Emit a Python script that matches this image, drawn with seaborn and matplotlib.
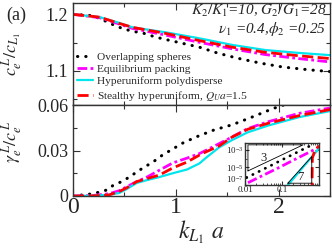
import numpy as np
import pandas as pd
import matplotlib
matplotlib.use("Agg")
import matplotlib.pyplot as plt
import seaborn as sns
from matplotlib.ticker import MultipleLocator, FixedLocator, NullFormatter

# ---- data ----
# top panel: c_e^L / c_L1
k_top_dots = [0, 0.165, 0.26, 0.36, 0.48, 0.58, 0.68, 0.80, 0.94, 1.23, 1.40, 1.59, 1.82, 2.04, 2.30, 2.5]
c_dots = [1.2, 1.198, 1.193, 1.184, 1.175, 1.170, 1.167, 1.160, 1.154, 1.142, 1.132, 1.123, 1.114, 1.107, 1.102, 1.099]

k_top = [0, 0.26, 0.43, 0.58, 0.91, 1.22, 1.55, 1.87, 2.19, 2.5]
c_equil = [1.2, 1.194, 1.184, 1.175, 1.163, 1.151, 1.139, 1.129, 1.122, 1.116]
c_hyper = [1.2, 1.195, 1.186, 1.177, 1.168, 1.158, 1.146, 1.137, 1.132, 1.128]
c_stealth = [1.2, 1.195, 1.185, 1.177, 1.166, 1.154, 1.142, 1.133, 1.127, 1.122]

# bottom panel: gamma_e^L / c_e^L
k_bot_dots = [0, 0.17, 0.26, 0.33, 0.39, 0.49, 0.58, 0.68, 0.78, 0.87, 0.97, 1.07, 1.2, 1.37, 1.55, 1.74, 1.94, 2.07]
g_dots = [0, 0.0013, 0.0026, 0.004, 0.007, 0.010, 0.014, 0.0185, 0.0225, 0.027, 0.031, 0.035, 0.039, 0.0435, 0.047, 0.052, 0.0575, 0.0605]

k_bot = [0, 0.2, 0.35, 0.45, 0.52, 0.62, 0.72, 0.84, 0.97, 1.11, 1.23, 1.29, 1.42, 1.55, 1.7, 1.9, 2.2, 2.5]
g_equil = [0, 0.0004, 0.0015, 0.0035, 0.006, 0.0095, 0.0125, 0.017, 0.0218, 0.025, 0.028, 0.030, 0.0345, 0.039, 0.0445, 0.049, 0.0545, 0.058]
g_hyper = [0, 0.0002, 0.0008, 0.002, 0.0045, 0.0086, 0.0105, 0.0125, 0.015, 0.0175, 0.0215, 0.025, 0.032, 0.037, 0.042, 0.0465, 0.052, 0.056]
g_stealth = [0, 0.0001, 0.0007, 0.003, 0.0053, 0.0095, 0.0115, 0.0138, 0.0185, 0.0224, 0.027, 0.029, 0.033, 0.039, 0.044, 0.048, 0.053, 0.057]

# inset (log-log)
ki_dots = [0.011, 0.015, 0.02, 0.028, 0.04, 0.055, 0.08, 0.11, 0.15, 0.21, 0.3, 0.42, 0.6]
gi_dots = [6.8e-7, 1.3e-6, 2.4e-6, 4.8e-6, 1.04e-5, 2.0e-5, 4.5e-5, 8.9e-5, 1.7e-4, 3.5e-4, 7.4e-4, 1.5e-3, 3.1e-3]
ki_equil = [0.012, 0.03, 0.08, 0.2, 0.5, 1.0]
gi_equil = [1.8e-7, 1.2e-6, 9.0e-6, 6.5e-5, 4.5e-4, 2.0e-3]
ki_hyper = [0.13, 0.2, 0.4, 0.7, 1.0]
gi_hyper = [6e-8, 5e-7, 1.6e-5, 2.5e-4, 1.5e-3]
ki_stealth = [0.648, 0.65, 0.66, 0.75, 0.9, 1.0]
gi_stealth = [1e-8, 1e-6, 1.2e-4, 6e-4, 1.8e-3, 3e-3]
tri3_x = [0.012, 0.37, 0.012, 0.012]
tri3_y = [4e-6, 3.7e-3, 3.7e-3, 4e-6]
tri7_x = [0.143, 0.636, 0.636, 0.143]
tri7_y = [1.6e-7, 1.7e-4, 1.6e-7, 1.6e-7]

# ---- style ----
sns.set_style("ticks")
plt.rcParams["font.family"] = ["Liberation Serif", "DejaVu Serif"]
plt.rcParams["mathtext.fontset"] = "stix"
plt.rcParams["mathtext.default"] = "it"
plt.rcParams["axes.edgecolor"] = "#333333"
plt.rcParams["axes.linewidth"] = 1.0

CYAN = "#00e5ee"
MAG = "#ff00ff"
RED = "#ff0000"
dot_style = dict(color="black", linestyle=(0, (0.1, 2.6)), linewidth=2.2, dash_capstyle="round")
eq_style = dict(color=MAG, linestyle=(0, (3.5, 1.2, 1, 1.2)), linewidth=2.0)
hy_style = dict(color=CYAN, linestyle="-", linewidth=1.6)
st_style = dict(color=RED, linestyle=(0, (4, 1.6)), linewidth=2.0)

fig = plt.figure(figsize=(3.32, 2.5), dpi=100)
ax1 = fig.add_axes([0.22, 0.58, 0.774, 0.408])
ax2 = fig.add_axes([0.22, 0.216, 0.774, 0.364])

# top panel
sns.lineplot(x=k_top_dots, y=c_dots, ax=ax1, label="Overlapping spheres", **dot_style)
sns.lineplot(x=k_top, y=c_equil, ax=ax1, label="Equilibrium packing", **eq_style)
sns.lineplot(x=k_top, y=c_hyper, ax=ax1, label="Hyperuniform polydisperse", **hy_style)
sns.lineplot(x=k_top, y=c_stealth, ax=ax1, label="Stealthy hyperuniform, $Q_U a$=1.5", **st_style)

# bottom panel
sns.lineplot(x=k_bot_dots, y=g_dots, ax=ax2, **dot_style)
sns.lineplot(x=k_bot, y=g_equil, ax=ax2, **eq_style)
sns.lineplot(x=k_bot, y=g_hyper, ax=ax2, **hy_style)
sns.lineplot(x=k_bot, y=g_stealth, ax=ax2, **st_style)

for ax in (ax1, ax2):
    ax.set_xlim(0, 2.5)
    ax.xaxis.set_major_locator(MultipleLocator(1))
    ax.xaxis.set_minor_locator(MultipleLocator(0.5))
    ax.tick_params(which="both", direction="in", top=True, right=True, color="#333333")
    ax.tick_params(which="major", length=5, width=0.8)
    ax.tick_params(which="minor", length=3, width=0.8)

ax1.set_ylim(1.04, 1.22)
ax1.yaxis.set_major_locator(MultipleLocator(0.1))
ax1.yaxis.set_minor_locator(MultipleLocator(0.05))
ax1.tick_params(labelbottom=False, labelsize=13)
ax1.set_ylabel(r"$c_e^{\,L}/c_{L_1}$", fontsize=13)
ax1.yaxis.set_label_coords(-0.19, 0.5)

ax2.set_ylim(0, 0.06)
ax2.yaxis.set_major_locator(FixedLocator([0, 0.03, 0.06]))
ax2.set_yticklabels(["0", "0.03", "0.06"])
ax2.yaxis.set_minor_locator(MultipleLocator(0.015))
ax2.tick_params(axis="y", labelsize=13)
ax2.tick_params(axis="x", labelsize=17, pad=1)
ax2.set_ylabel(r"$\gamma_e^{\,L}/c_e^{\,L}$", fontsize=13)
ax2.yaxis.set_label_coords(-0.19, 0.6)
ax2.set_xlabel(r"$k_{L_1}\ a$", fontsize=17, labelpad=0)

leg = ax1.legend(loc="lower left", bbox_to_anchor=(-0.01, -0.045), frameon=False, fontsize=8.2,
                 handlelength=1.35, handletextpad=0.35, labelspacing=0.2, borderaxespad=0.2)

ax1.text(0.985, 0.92, r"$K_2/K_1$=10, $G_2/G_1$=28", transform=ax1.transAxes,
         ha="right", va="center", fontsize=11, fontstyle="italic")
ax1.text(0.985, 0.75, r"$\nu_1$ =0.4,$\phi_2$ =0.25", transform=ax1.transAxes,
         ha="right", va="center", fontsize=11, fontstyle="italic")
fig.text(0.05, 0.94, "(a)", fontsize=13, ha="center", va="center")

# inset
axi = fig.add_axes([0.738, 0.26, 0.223, 0.168])
sns.lineplot(x=ki_dots, y=gi_dots, ax=axi, color="black", linestyle=(0, (0.1, 2.4)), linewidth=2.0, dash_capstyle="round")
sns.lineplot(x=ki_equil, y=gi_equil, ax=axi, **eq_style)
sns.lineplot(x=ki_hyper, y=gi_hyper, ax=axi, **hy_style)
sns.lineplot(x=ki_stealth, y=gi_stealth, ax=axi, sort=False, **st_style)
axi.plot(tri3_x, tri3_y, color="black", linewidth=0.6)
axi.plot(tri7_x, tri7_y, color="black", linewidth=0.6)
axi.set_xscale("log")
axi.set_yscale("log")
axi.set_xlim(0.01, 1.0)
axi.set_ylim(1e-7, 6e-3)
axi.text(0.031, 1.2e-4, "3", fontsize=9, ha="center", va="center")
axi.text(0.31, 9e-7, "7", fontsize=9, ha="center", va="center")
axi.xaxis.set_major_locator(FixedLocator([0.01, 0.1]))
axi.set_xticklabels(["0.01", "0.1"])
axi.yaxis.set_major_locator(FixedLocator([1e-7, 1e-5, 1e-3]))
axi.set_yticklabels([r"$\mathregular{10^{-7}}$", r"$\mathregular{10^{-5}}$", r"$\mathregular{10^{-3}}$"])
axi.yaxis.set_minor_locator(FixedLocator([1e-6, 1e-4, 1e-2]))
axi.yaxis.set_minor_formatter(NullFormatter())
axi.tick_params(which="both", direction="in", top=True, right=True, labelsize=6.5, pad=1, color="#333333")
axi.tick_params(axis="x", pad=0.5)
axi.tick_params(which="major", length=3)
axi.tick_params(which="minor", length=1.5)
axi.set_facecolor("white")
# keep the bottom y label clear of the x labels
axi.get_yticklabels()[0].set_verticalalignment("bottom")

fig.savefig("out.png", dpi=100)
